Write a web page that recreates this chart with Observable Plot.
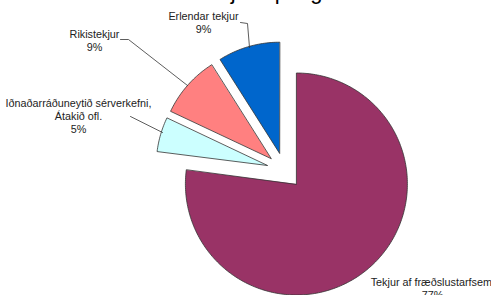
<!DOCTYPE html>
<html><head><meta charset="utf-8">
<script src="https://cdn.jsdelivr.net/npm/d3@7"></script>
<script src="https://cdn.jsdelivr.net/npm/@observablehq/plot@0.6"></script>
<style>
html,body{margin:0;padding:0;background:#fff;overflow:hidden;}
</style>
</head><body>
<div id="chart"></div>
<script>
// Data
const title = "Tekjuskipting";
const categories = ["Tekjur af fræðslustarfsemi", "Iðnaðarráðuneytið sérverkefni,\nÁtakið ofl.", "Rikistekjur", "Erlendar tekjur"];
const values = [77, 5, 9, 9];
const percentLabels = ["77%", "5%", "9%", "9%"];
const colors = ["#993366", "#ccffff", "#ff8080", "#0066cc"];

// Layout
const W = 491, H = 295;
const center = [284, 170], radius = 111, explode = 18;
const labelAnchors = [[432, 288], [78, 115], [94, 40], [203, 22]];
const leaders = [null, [[130, 116], [162, 132]], [[120, 39], [128, 39], [187, 85]], [[240, 22], [247, 23], [249, 47]]];

const total = d3.sum(values);
const slices = [];
let acc = 0;
values.forEach((v, i) => {
  const a0 = acc / total * 2 * Math.PI;
  acc += v;
  const a1 = acc / total * 2 * Math.PI;
  const mid = (a0 + a1) / 2;
  const cx = center[0] + explode * Math.sin(mid);
  const cy = center[1] - explode * Math.cos(mid);
  slices.push({i, x: cx, y: cy});
  const n = Math.max(4, Math.ceil((a1 - a0) / (Math.PI / 180)));
  for (let k = 0; k <= n; k++) {
    const a = a0 + (a1 - a0) * k / n;
    slices.push({i, x: cx + radius * Math.sin(a), y: cy - radius * Math.cos(a)});
  }
});

const labels = categories.map((c, i) => ({text: c + "\n" + percentLabels[i], x: labelAnchors[i][0], y: labelAnchors[i][1]}));
const leaderPts = [];
leaders.forEach((l, i) => { if (l) l.forEach(p => leaderPts.push({i, x: p[0], y: p[1]})); });

const chart = Plot.plot({
  width: W, height: H, margin: 0,
  x: {domain: [0, W], range: [0, W], axis: null},
  y: {domain: [0, H], range: [0, H], axis: null},
  style: {fontFamily: "Arial, 'Liberation Sans', sans-serif", background: "#fff"},
  marks: [
    Plot.line(slices, {x: "x", y: "y", z: "i", curve: "linear-closed", fill: d => colors[d.i], stroke: "#333", strokeWidth: 0.8}),
    Plot.line(leaderPts, {x: "x", y: "y", z: "i", stroke: "#333", strokeWidth: 0.8}),
    Plot.text(labels, {x: "x", y: "y", text: "text", fontSize: 10.8, lineHeight: 1.2, fill: "#222", textAnchor: "middle", lineAnchor: "middle"}),
    Plot.text([title], {x: () => 196, y: () => -2, text: d => d, fontSize: 22, textAnchor: "start", lineAnchor: "bottom", fill: "#000"})
  ]
});
document.getElementById("chart").appendChild(chart);
</script>
</body></html>
